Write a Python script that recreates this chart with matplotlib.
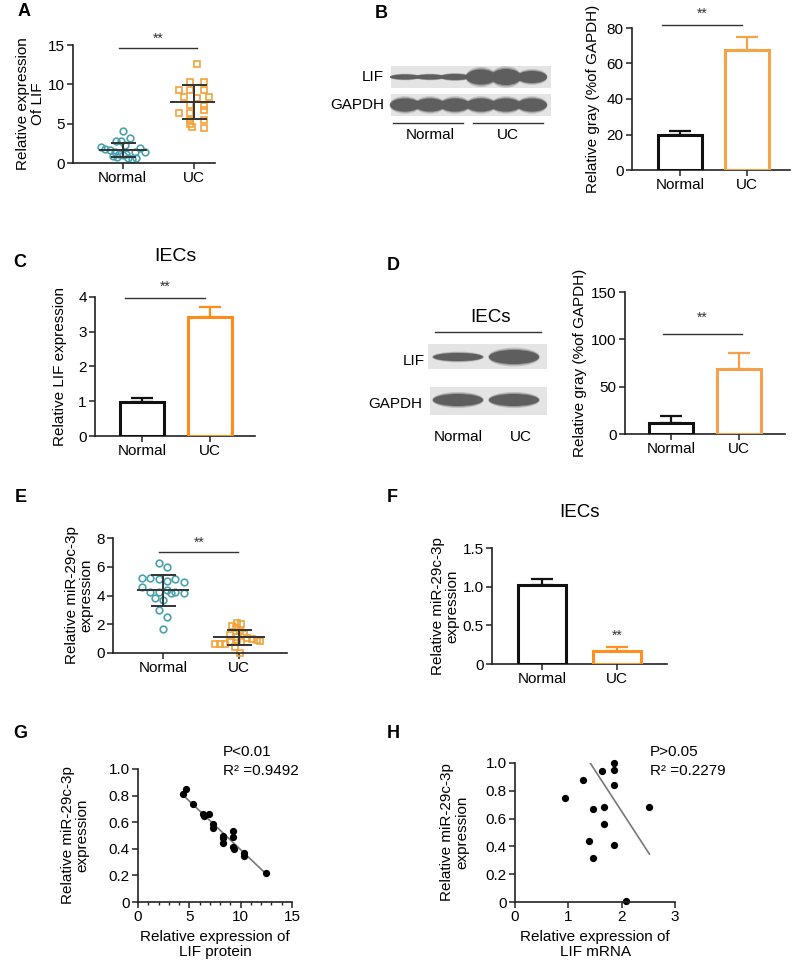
import numpy as np
import matplotlib.pyplot as plt
from matplotlib.patches import Ellipse, Rectangle

plt.rcParams['font.family'] = ['Liberation Sans', 'DejaVu Sans']
plt.rcParams['font.size'] = 11

# ===============================
# Data
# ===============================
groups = ["Normal", "UC"]

# A: relative expression of LIF (tissue)
a_normal_y = [4.1, 3.2, 2.8, 2.8, 2.3, 2.0, 1.8, 1.6, 1.4, 1.2, 1.2, 1.4, 1.9, 1.4, 0.9, 1.0, 0.6, 0.5, 0.6, 0.8]
a_normal_dx = [0.0, 0.1, -0.09, -0.03, 0.03, -0.31, -0.25, -0.18, -0.11, -0.05, 0.05, 0.17, 0.25, 0.31, -0.13, 0.0, 0.07, 0.13, 0.19, -0.08]
a_uc_y = [12.6, 10.3, 10.3, 9.3, 9.3, 9.3, 8.4, 8.2, 8.4, 7.4, 7.2, 6.8, 6.4, 6.4, 5.5, 5.5, 5.0, 4.6, 4.4]
a_uc_dx = [0.05, -0.05, 0.14, -0.21, -0.05, 0.14, -0.13, 0.05, 0.21, -0.05, 0.14, 0.14, -0.21, -0.05, -0.05, 0.14, -0.05, -0.03, 0.14]
a_mean = [1.7, 7.75]
a_sd = [0.9, 2.15]

# B: western blot LIF / GAPDH (band thickness per lane) and gray values
b_lif_band = [5, 5, 6, 15, 16, 12]
b_gapdh_band = [13, 13, 13, 13, 13, 13]
b_mean = [20, 67.5]
b_err = [1.8, 7.5]

# C: IECs relative LIF expression
c_mean = [0.97, 3.42]
c_err = [0.13, 0.28]

# D: IECs western blot and gray values
d_lif_band = [8, 14]
d_gapdh_band = [12, 12]
d_mean = [12, 69]
d_err = [7, 17]

# E: relative miR-29c-3p expression (tissue)
e_normal_y = [6.25, 5.95, 5.25, 5.2, 5.15, 5.0, 5.15, 4.95, 4.6, 4.25, 4.25, 4.35, 4.2, 4.25, 4.2, 3.85, 3.7, 3.0, 2.5, 1.65]
e_normal_dx = [-0.06, 0.05, -0.28, -0.17, -0.06, 0.05, 0.16, 0.27, -0.28, -0.17, -0.06, 0.05, 0.1, 0.16, 0.27, -0.11, 0.0, -0.06, 0.05, 0.0]
e_uc_y = [2.1, 2.05, 1.88, 1.72, 1.55, 1.3, 1.25, 1.14, 1.02, 0.95, 0.9, 0.84, 0.65, 0.65, 0.65, 0.8, 0.9, 0.8, 0.4, 0.0]
e_uc_dx = [-0.03, 0.03, -0.1, -0.04, 0.01, 0.06, -0.12, -0.03, 0.1, 0.17, 0.23, 0.28, -0.32, -0.25, -0.19, -0.12, -0.03, 0.03, -0.05, 0.01]
e_mean = [4.35, 1.1]
e_sd = [1.1, 0.52]

# F: IECs relative miR-29c-3p expression
f_mean = [1.02, 0.17]
f_err = [0.08, 0.05]

# G: miR-29c-3p vs LIF protein
g_x = [4.35, 4.7, 5.4, 6.35, 6.45, 6.95, 7.35, 7.35, 8.25, 8.3, 8.3, 9.25, 9.25, 9.25, 9.35, 10.35, 10.35, 12.5]
g_y = [0.81, 0.85, 0.74, 0.66, 0.645, 0.665, 0.585, 0.56, 0.5, 0.44, 0.48, 0.535, 0.485, 0.415, 0.4, 0.37, 0.345, 0.215]
g_fit_x = [4.3, 12.5]
g_fit_y = [0.81, 0.21]

# H: miR-29c-3p vs LIF mRNA
h_x = [0.94, 1.28, 1.64, 1.86, 1.86, 1.86, 1.47, 1.67, 2.52, 1.66, 1.39, 1.86, 1.47, 2.08]
h_y = [0.75, 0.88, 0.94, 1.0, 0.95, 0.84, 0.67, 0.68, 0.68, 0.56, 0.44, 0.41, 0.32, 0.005]
h_fit_x = [1.41, 2.52]
h_fit_y = [1.0, 0.345]

TEAL = '#4aa2ae'
ORANGE_SQ = '#f2a23a'
DARK = '#333333'

W, H = 800, 974
fig = plt.figure(figsize=(W / 100, H / 100), dpi=100)


def px_axes(x0, y0, x1, y1):
    return fig.add_axes([x0 / W, 1 - y1 / H, (x1 - x0) / W, (y1 - y0) / H])


def ftext(x, y, s, **kw):
    fig.text(x / W, 1 - y / H, s, **kw)


def style(ax):
    for side in ['top', 'right']:
        ax.spines[side].set_visible(False)
    for side in ['left', 'bottom']:
        ax.spines[side].set_color('#222222')
        ax.spines[side].set_linewidth(1.2)
    ax.tick_params(direction='out', length=4, width=1.1, color='#222222', labelsize=11, pad=2)


def bar_panel(ax, means, errs, colors, ylim, yticks, xlim):
    xs = np.arange(len(means))
    for x, m, e, c in zip(xs, means, errs, colors):
        ax.errorbar(x, m, yerr=[[0], [e]], fmt='none', ecolor=c, elinewidth=1.6,
                    capsize=8, capthick=1.6, zorder=2)
        ax.bar(x, m, width=0.65, facecolor='white', edgecolor=c, linewidth=2.2, zorder=3)
    ax.set_xlim(*xlim)
    ax.set_ylim(*ylim)
    ax.set_yticks(yticks)
    ax.set_xticks(xs)
    ax.set_xticklabels(groups)
    style(ax)


def dot_panel(ax, ys_list, dx_list, means, sds, ylim, yticks, xlim):
    markers = ['o', 's']
    colors = [TEAL, ORANGE_SQ]
    for i, (ys, dxs) in enumerate(zip(ys_list, dx_list)):
        ax.plot(i + np.array(dxs), ys, linestyle='none', marker=markers[i], ms=4.8,
                mfc='none', mec=colors[i], mew=1.2, zorder=2, clip_on=False)
        ax.hlines(means[i], i - 0.34, i + 0.34, color=DARK, lw=1.4, zorder=3)
        ax.errorbar(i, means[i], yerr=sds[i], fmt='none', ecolor=DARK, elinewidth=1.4,
                    capsize=9, capthick=1.4, zorder=3)
    ax.set_xlim(*xlim)
    ax.set_ylim(*ylim)
    ax.set_yticks(yticks)
    ax.set_xticks([0, 1])
    ax.set_xticklabels(groups)
    style(ax)


def sig(ax, x0, x1, y, label_y):
    ax.plot([x0, x1], [y, y], color=DARK, lw=1.0, clip_on=False)
    ax.text((x0 + x1) / 2, label_y, '**', ha='center', va='bottom', fontsize=10, color=DARK)


# overlay axes in pixel units for blots
ov = fig.add_axes([0, 0, 1, 1], zorder=-1)
ov.set_xlim(0, W)
ov.set_ylim(H, 0)
ov.axis('off')


def band(cx, cy, w, h):
    for k, a in [(1.35, 0.25), (1.15, 0.45), (1.0, 1.0)]:
        ov.add_patch(Ellipse((cx, cy), w * (0.9 + 0.1 * k), h * k, facecolor='#5e5e5e',
                             edgecolor='none', alpha=a))


# ---------------- A ----------------
axA = px_axes(73, 45, 215, 163)
dot_panel(axA, [a_normal_y, a_uc_y], [a_normal_dx, a_uc_dx], a_mean, a_sd,
          (0, 15), [0, 5, 10, 15], (-0.7, 1.3))
axA.set_ylabel('Relative expression\nOf LIF', fontsize=11, labelpad=2, linespacing=1.05)
sig(axA, -0.05, 1.05, 14.6, 14.9)

# ---------------- B ----------------
# blot
lane_x = [405, 430, 455, 481, 506, 532]
ov.add_patch(Rectangle((391, 66), 160, 22, facecolor='#e4e4e4', edgecolor='none'))
ov.add_patch(Rectangle((391, 94), 160, 22, facecolor='#e4e4e4', edgecolor='none'))
for cx, h in zip(lane_x, b_lif_band):
    band(cx, 77, 30, h)
for cx, h in zip(lane_x, b_gapdh_band):
    band(cx, 105, 30, h)
ov.plot([393, 463], [123, 123], color=DARK, lw=1.0)
ov.plot([473, 543], [123, 123], color=DARK, lw=1.0)
ftext(384, 77, 'LIF', ha='right', va='center', fontsize=11)
ftext(384, 105, 'GAPDH', ha='right', va='center', fontsize=11)
ftext(430, 135, 'Normal', ha='center', va='center', fontsize=11)
ftext(508, 135, 'UC', ha='center', va='center', fontsize=11)

axB = px_axes(632, 28, 790, 170)
bar_panel(axB, b_mean, b_err, ['#111111', '#f5a347'], (0, 80), [0, 20, 40, 60, 80], (-0.72, 1.64))
axB.set_ylabel('Relative gray (%of GAPDH)', fontsize=11, labelpad=5)
sig(axB, -0.27, 0.93, 81.5, 84)

# ---------------- C ----------------
axC = px_axes(95, 297, 255, 436)
bar_panel(axC, c_mean, c_err, ['#111111', '#ff8c1a'], (0, 4), [0, 1, 2, 3, 4], (-0.69, 1.66))
axC.set_ylabel('Relative LIF expression', fontsize=11, labelpad=8)
axC.set_title('IECs', fontsize=14, pad=26)
sig(axC, -0.25, 0.93, 3.96, 4.08)

# ---------------- D ----------------
ftext(490, 317, 'IECs', ha='center', va='center', fontsize=13.5)
ov.plot([435, 541], [332, 332], color=DARK, lw=1.0)
ov.add_patch(Rectangle((428, 344), 119, 25, facecolor='#e4e4e4', edgecolor='none'))
ov.add_patch(Rectangle((430, 387), 117, 28, facecolor='#e4e4e4', edgecolor='none'))
d_lane_x = [458, 514]
for cx, h in zip(d_lane_x, d_lif_band):
    band(cx, 357, 50, h)
for cx, h in zip(d_lane_x, d_gapdh_band):
    band(cx, 400, 50, h)
ftext(425, 361, 'LIF', ha='right', va='center', fontsize=11)
ftext(422, 404, 'GAPDH', ha='right', va='center', fontsize=11)
ftext(458, 437, 'Normal', ha='center', va='center', fontsize=11)
ftext(521, 437, 'UC', ha='center', va='center', fontsize=11)

axD = px_axes(625, 292, 785, 434)
bar_panel(axD, d_mean, d_err, ['#111111', '#f5a04c'], (0, 150), [0, 50, 100, 150], (-0.68, 1.68))
axD.set_ylabel('Relative gray (%of GAPDH)', fontsize=11, labelpad=3)
sig(axD, -0.12, 1.04, 106, 115)

# ---------------- E ----------------
axE = px_axes(113, 538, 287, 653)
dot_panel(axE, [e_normal_y, e_uc_y], [e_normal_dx, e_uc_dx], e_mean, e_sd,
          (0, 8), [0, 2, 4, 6, 8], (-0.66, 1.63))
axE.set_ylabel('Relative miR-29c-3p\nexpression', fontsize=11, labelpad=2, linespacing=1.05)
sig(axE, -0.05, 0.99, 7.0, 7.2)

# ---------------- F ----------------
axF = px_axes(492, 548, 667, 664)
bar_panel(axF, f_mean, f_err, ['#111111', '#ff9020'], (0, 1.5), [0, 0.5, 1.0, 1.5], (-0.67, 1.67))
axF.set_yticklabels(['0', '0.5', '1.0', '1.5'])
axF.set_ylabel('Relative miR-29c-3p\nexpression', fontsize=11, labelpad=2, linespacing=1.05)
axF.set_title('IECs', fontsize=13.5, pad=22)
axF.text(1, 0.28, '**', ha='center', va='bottom', fontsize=10, color=DARK)

# ---------------- G ----------------
axG = px_axes(138, 769, 292, 902)
axG.plot(g_fit_x, g_fit_y, color='#777777', lw=1.2, zorder=1)
axG.plot(g_x, g_y, 'o', color='black', ms=4.2, zorder=2)
axG.set_xlim(0, 15)
axG.set_ylim(0, 1.0)
axG.set_xticks([0, 5, 10, 15])
axG.set_xticks(np.arange(0, 16, 1), minor=True)
axG.set_yticks([0, 0.2, 0.4, 0.6, 0.8, 1.0])
axG.set_yticklabels(['0', '0.2', '0.4', '0.6', '0.8', '1.0'])
style(axG)
axG.tick_params(which='minor', length=2, width=1, color='#222222')
axG.set_xlabel('Relative expression of\nLIF protein', fontsize=11, labelpad=4, linespacing=1.1)
axG.set_ylabel('Relative miR-29c-3p\nexpression', fontsize=11, labelpad=14, linespacing=1.05)
ftext(223, 752, 'P<0.01', ha='left', va='center', fontsize=11)
ftext(223, 771, 'R\u00b2 =0.9492', ha='left', va='center', fontsize=11)

# ---------------- H ----------------
axH = px_axes(515, 763, 675, 902)
axH.plot(h_fit_x, h_fit_y, color='#777777', lw=1.2, zorder=1)
axH.plot(h_x, h_y, 'o', color='black', ms=4.2, zorder=2, clip_on=False)
axH.set_xlim(0, 3)
axH.set_ylim(0, 1.0)
axH.set_xticks([0, 1, 2, 3])
axH.set_yticks([0, 0.2, 0.4, 0.6, 0.8, 1.0])
axH.set_yticklabels(['0', '0.2', '0.4', '0.6', '0.8', '1.0'])
style(axH)
axH.set_xlabel('Relative expression of\nLIF mRNA', fontsize=11, labelpad=4, linespacing=1.1)
axH.set_ylabel('Relative miR-29c-3p\nexpression', fontsize=11, labelpad=12, linespacing=1.05)
ftext(650, 752, 'P>0.05', ha='left', va='center', fontsize=11)
ftext(650, 771, 'R\u00b2 =0.2279', ha='left', va='center', fontsize=11)

# ---------------- panel letters ----------------
for letter, x, y in [('A', 18, 11), ('B', 375, 13), ('C', 13, 263), ('D', 387, 265),
                     ('E', 15, 498), ('F', 387, 498), ('G', 13, 733), ('H', 387, 733)]:
    ftext(x, y, letter, ha='left', va='center', fontsize=13, fontweight='bold')

fig.savefig('out.png', dpi=100)
